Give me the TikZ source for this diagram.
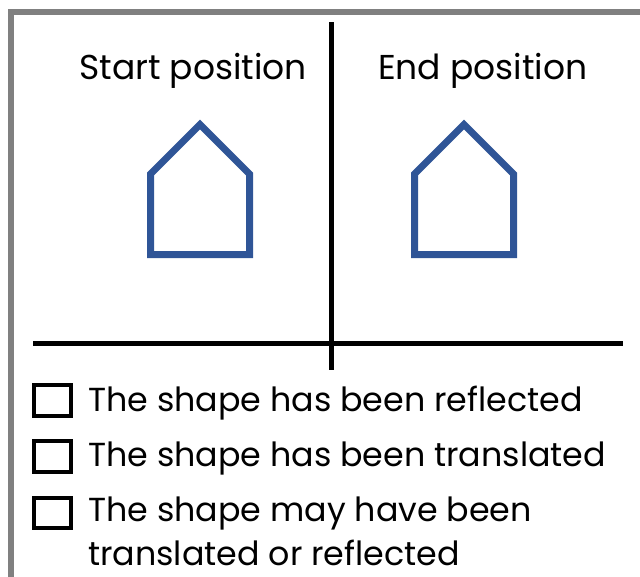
\documentclass[tikz,border=0pt]{standalone}
\usepackage{fontspec}
\setmainfont{Poppins}
\definecolor{frame}{RGB}{128,128,128}
\definecolor{house}{RGB}{47,85,151}
\tikzset{
  framepen/.style={draw=frame,line width=6pt,line join=miter},
  axispen/.style={draw=black,line width=5pt},
  housepen/.style={draw=house,line width=7pt,line join=miter},
  boxpen/.style={draw=black,line width=4pt},
  title/.style={anchor=base west,inner sep=0pt,font=\fontsize{34.5}{44}\selectfont},
  option/.style={anchor=base west,inner sep=0pt,align=left,font=\fontsize{33.3}{44}\selectfont},
}
\begin{document}
\begin{tikzpicture}[x=1pt,y=-1pt]
\useasboundingbox (0,0) rectangle (640,576);
\draw[framepen] (11,580) -- (11,12) -- (644,12);
\coordinate (vt) at (331.5,22);
\coordinate (vb) at (331.5,370);
\coordinate (hl) at (33,343.5);
\coordinate (hr) at (623,343.5);
\draw[axispen] (vt) -- (vb);
\draw[axispen] (hl) -- (hr);
\node[title] (start) at (79,79) {Start position};
\node[title] (end) at (378,79) {End position};
\draw[housepen] (150.5,254.5) -- (150.5,174) -- (200,124.5) -- (249.5,174) -- (249.5,254.5) -- cycle;
\draw[housepen] (414.5,254.5) -- (414.5,174) -- (464,124.5) -- (513.5,174) -- (513.5,254.5) -- cycle;
\draw[boxpen] (34,385) rectangle (71,416);
\draw[boxpen] (34,441) rectangle (71,472);
\draw[boxpen] (34,498) rectangle (71,528);
\node[option] (o1) at (88,411) {The shape has been reflected};
\node[option] (o2) at (88,466) {The shape has been translated};
\node[option] (o3) at (88,565) {The shape may have been\\translated or reflected};
\end{tikzpicture}
\end{document}
